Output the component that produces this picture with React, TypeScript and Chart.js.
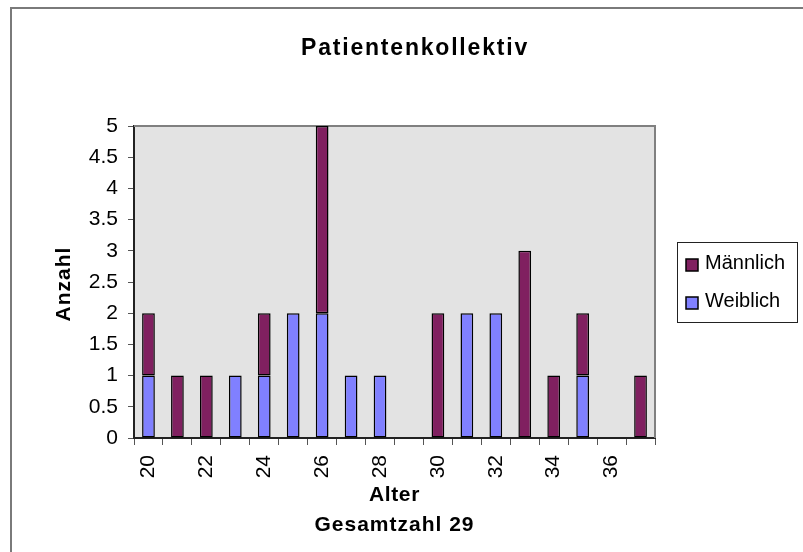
import React, { useEffect, useRef } from "react";
import { Chart, registerables } from "chart.js";

Chart.register(...registerables);

const categories = ["20", "21", "22", "23", "24", "25", "26", "27", "28", "29", "30", "31", "32", "33", "34", "35", "36", "37"];
const weiblich = [1, 0, 0, 1, 1, 2, 2, 1, 1, 0, 0, 2, 2, 0, 0, 1, 0, 0];
const maennlich = [1, 1, 1, 0, 1, 0, 3, 0, 0, 0, 2, 0, 0, 3, 1, 1, 0, 1];
const seriesNames = ["Weiblich", "Männlich"];
const titleText = "Patientenkollektiv";
const yTitleText = "Anzahl";
const xTitleText = "Alter";
const subtitleText = "Gesamtzahl 29";
const yMin = 0;
const yMax = 5;
const yStep = 0.5;

const FONT = "'Liberation Sans', Arial, sans-serif";
const COLOR_W = "#8080ff";
const COLOR_M = "#802060";

const decorPlugin = {
  id: "decor",
  beforeDraw(chart: any) {
    const { ctx, chartArea: a } = chart;
    ctx.save();
    ctx.fillStyle = "#e3e3e3";
    ctx.fillRect(a.left, a.top, a.right - a.left, a.bottom - a.top);
    ctx.restore();
  },
  beforeDatasetsDraw(chart: any) {
    const { ctx, chartArea: a } = chart;
    ctx.save();
    ctx.strokeStyle = "#808080";
    ctx.lineWidth = 2;
    ctx.beginPath();
    ctx.moveTo(a.left, a.top);
    ctx.lineTo(a.right, a.top);
    ctx.lineTo(a.right, a.bottom);
    ctx.stroke();
    ctx.restore();
  },
  afterDraw(chart: any) {
    const { ctx, chartArea: a } = chart;
    ctx.save();
    // outer frame (top + left visible)
    ctx.fillStyle = "#7a7a7a";
    ctx.fillRect(10, 7, 793, 2);
    ctx.fillRect(10, 7, 2, 545);

    ctx.fillStyle = "#000";
    // title
    ctx.font = `bold 23px ${FONT}`;
    (ctx as any).letterSpacing = "1.8px";
    ctx.textAlign = "center";
    ctx.textBaseline = "alphabetic";
    ctx.fillText(titleText, 415, 55);

    // x title + subtitle
    const cx = (a.left + a.right) / 2;
    ctx.font = `bold 21px ${FONT}`;
    (ctx as any).letterSpacing = "0.6px";
    ctx.fillText(xTitleText, cx, 501);
    (ctx as any).letterSpacing = "1px";
    ctx.fillText(subtitleText, cx, 531);

    // y title
    (ctx as any).letterSpacing = "1px";
    ctx.save();
    ctx.translate(70, (a.top + a.bottom) / 2 + 2);
    ctx.rotate(-Math.PI / 2);
    ctx.fillText(yTitleText, 0, 0);
    ctx.restore();

    // legend
    (ctx as any).letterSpacing = "0px";
    ctx.strokeStyle = "#222";
    ctx.lineWidth = 1;
    ctx.strokeRect(677.5, 242.5, 120, 80);
    const ds = chart.data.datasets;
    const order = [1, 0];
    order.forEach((di, k) => {
      const d = ds[di];
      const y = 259 + k * 38;
      ctx.fillStyle = d.backgroundColor;
      ctx.fillRect(686, y, 12, 12);
      ctx.lineWidth = 1.5;
      ctx.strokeStyle = "#000";
      ctx.strokeRect(686, y, 12, 12);
      ctx.fillStyle = "#000";
      ctx.font = `20px ${FONT}`;
      ctx.textAlign = "left";
      ctx.textBaseline = "alphabetic";
      ctx.fillText(d.label, 705, y + 10);
    });
    ctx.restore();
  },
};

export default function App() {
  const ref = useRef<HTMLCanvasElement | null>(null);

  useEffect(() => {
    if (!ref.current) return;
    const chart = new Chart(ref.current, {
      type: "bar",
      data: {
        labels: categories,
        datasets: [
          {
            label: seriesNames[0],
            data: weiblich.map((v) => (v === 0 ? null : v)),
            backgroundColor: COLOR_W,
            borderColor: "#000",
            borderWidth: 1.5,
            borderSkipped: false,
            barPercentage: 0.44,
            categoryPercentage: 1,
          },
          {
            label: seriesNames[1],
            data: maennlich.map((v) => (v === 0 ? null : v)),
            backgroundColor: COLOR_M,
            borderColor: "#000",
            borderWidth: 1.5,
            borderSkipped: false,
            barPercentage: 0.44,
            categoryPercentage: 1,
          },
        ],
      },
      options: {
        animation: false,
        responsive: false,
        devicePixelRatio: 1,
        layout: { padding: { left: 0, top: 126, right: 148, bottom: 0 } },
        plugins: {
          legend: { display: false },
          title: { display: false },
          tooltip: { enabled: false },
        },
        scales: {
          x: {
            stacked: true,
            offset: true,
            afterFit: (s: any) => {
              s.height = 114;
            },
            grid: {
              offset: true,
              drawOnChartArea: false,
              drawTicks: true,
              tickLength: 7,
              color: "#555",
              lineWidth: 1,
            },
            border: { display: true, color: "#222", width: 2 },
            ticks: {
              autoSkip: false,
              maxRotation: 90,
              minRotation: 90,
              padding: 10,
              color: "#000",
              font: { family: FONT, size: 21 },
              callback: function (this: any, value: any, index: number) {
                return index % 2 === 0 ? this.getLabelForValue(value) : "";
              },
            },
          },
          y: {
            stacked: true,
            min: yMin,
            max: yMax,
            afterFit: (s: any) => {
              s.width = 134;
            },
            grid: {
              drawOnChartArea: false,
              drawTicks: true,
              tickLength: 6,
              color: "#555",
              lineWidth: 1,
            },
            border: { display: true, color: "#222", width: 2 },
            ticks: {
              stepSize: yStep,
              padding: 10,
              color: "#000",
              font: { family: FONT, size: 21 },
              callback: (v: any) => String(v),
            },
          },
        },
      },
      plugins: [decorPlugin],
    });
    return () => chart.destroy();
  }, []);

  return (
    <div style={{ position: "absolute", left: 0, top: 0, width: 803, height: 552, background: "#fff" }}>
      <canvas ref={ref} width={803} height={552} style={{ display: "block" }} />
    </div>
  );
}
